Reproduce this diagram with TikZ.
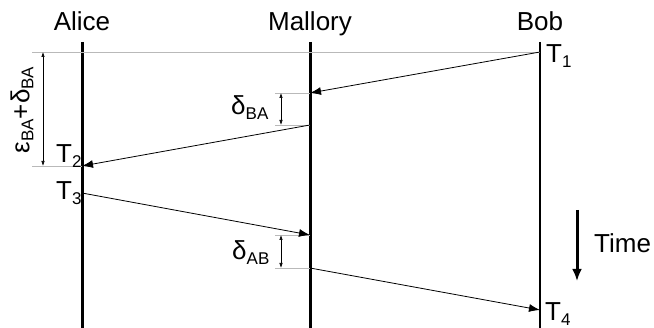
\documentclass[tikz,border=0pt]{standalone}
\usepackage{fontspec}
\setmainfont{Liberation Sans}
\usetikzlibrary{arrows.meta}
\newcommand\sbs[1]{\raisebox{-0.3ex}{\fontsize{17}{17}\selectfont #1}}
\tikzset{
  lbl/.style={font=\fontsize{26}{30}\selectfont, inner sep=0pt},
  life/.style={line width=3pt},
  msg/.style={line width=0.8pt, -{Latex[length=11pt,width=8pt]}},
  guide/.style={gray!55, line width=0.8pt},
  dim/.style={line width=0.6pt, {Latex[length=5pt,width=3.5pt]}-{Latex[length=5pt,width=3.5pt]}},
}
\begin{document}
\begin{tikzpicture}[x=1pt,y=-1pt]
\useasboundingbox (0,0) rectangle (654,328);
% headers
\node[lbl, anchor=base] (alice) at (82,31) {Alice};
\node[lbl, anchor=base] (mallory) at (310,31) {Mallory};
\node[lbl, anchor=base] (bob) at (540,31) {Bob};
% lifeline coordinates
\coordinate (a0) at (82,42);   \coordinate (a1) at (82,328);
\coordinate (m0) at (310,42);  \coordinate (m1) at (310,328);
\coordinate (b0) at (540,42);  \coordinate (b1) at (540,328);
\draw[life] (a0) -- (a1);
\draw[life] (m0) -- (m1);
\draw[line width=2pt] (b0) -- (b1);
% message points
\coordinate (bT1) at (540,52);
\coordinate (mR1) at (310,93);
\coordinate (mS1) at (310,125);
\coordinate (aT2) at (82,166);
\coordinate (aT3) at (82,193);
\coordinate (mR2) at (310,235);
\coordinate (mS2) at (310,268);
\coordinate (bT4) at (540,310);
% guide lines
\coordinate (g1) at (32,52);
\coordinate (g2) at (32,166);
\draw[guide] (g1) -- (bT1);
\draw[guide] (g2) -- (aT2);
\coordinate (d1a) at (275,93);  \coordinate (d1b) at (275,125);
\coordinate (d2a) at (275,235); \coordinate (d2b) at (275,268);
\draw[guide] (d1a) -- (mR1);
\draw[guide] (d1b) -- (mS1);
\draw[guide] (d2a) -- (mR2);
\draw[guide] (d2b) -- (mS2);
% dimension arrows
\coordinate (e0) at (43,52); \coordinate (e1) at (43,166);
\draw[dim] (e0) -- (e1);
\coordinate (f0) at (281,93); \coordinate (f1) at (281,125);
\draw[dim] (f0) -- (f1);
\coordinate (h0) at (281,235); \coordinate (h1) at (281,268);
\draw[dim] (h0) -- (h1);
% messages
\draw[msg] (bT1) -- (mR1);
\draw[msg] (mS1) -- (aT2);
\draw[msg] (aT3) -- (mR2);
\draw[msg] (mS2) -- (bT4);
% labels
\node[lbl, anchor=base west] (t1) at (546,63) {T\sbs{1}};
\node[lbl, anchor=base west] (t2) at (56,163) {T\sbs{2}};
\node[lbl, anchor=base west] (t3) at (56,200) {T\sbs{3}};
\node[lbl, anchor=base west] (t4) at (545,321) {T\sbs{4}};
\node[lbl, anchor=base west] (dba) at (231,115) {δ\sbs{BA}};
\node[lbl, anchor=base west] (dab) at (232,260) {δ\sbs{AB}};
\node[lbl, rotate=90] (eps) at (22,110) {ε\sbs{BA}+δ\sbs{BA}};
% time
\coordinate (ti0) at (577,210); \coordinate (ti1) at (577,281);
\draw[line width=3pt, -{Latex[length=12pt,width=10pt]}] (ti0) -- (ti1);
\node[lbl, anchor=base west] (time) at (594,253) {Time};
\end{tikzpicture}
\end{document}
